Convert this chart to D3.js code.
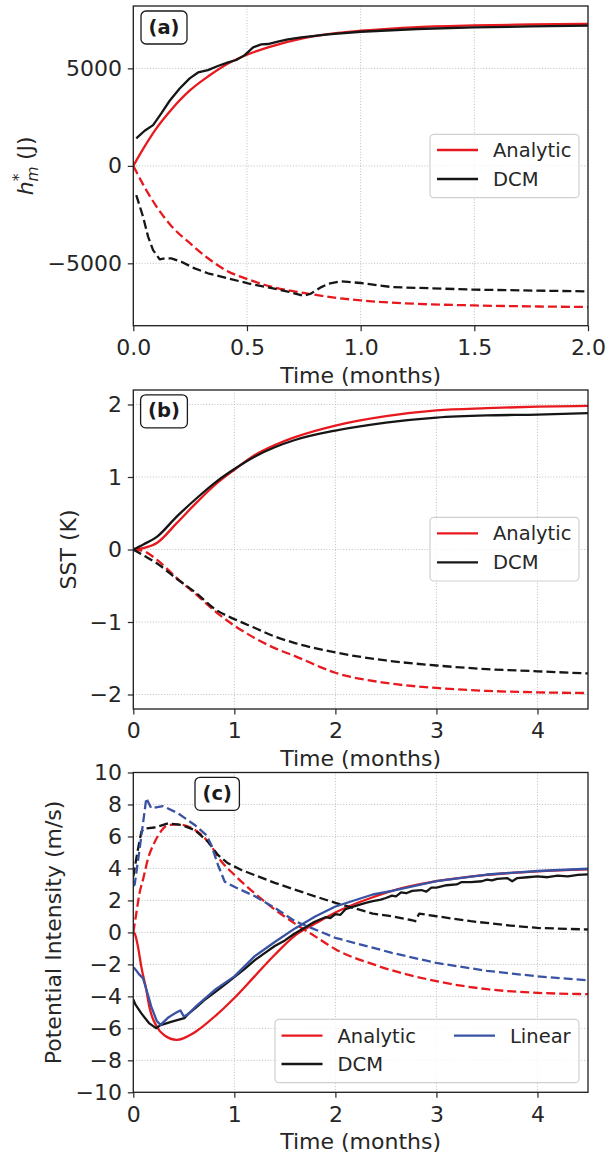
<!DOCTYPE html>
<html>
<head>
<meta charset="utf-8">
<script src="https://cdn.jsdelivr.net/npm/d3@7"></script>
<style>
  html, body { margin: 0; padding: 0; background: #fff; }
  svg { display: block; font-family: "DejaVu Sans", sans-serif; }
</style>
</head>
<body>
<svg id="fig" width="616" height="1153"></svg>
<script>
// ---------- Panel (a): h*_m (J), time in months ----------
const aTime = [0, 0.05, 0.1, 0.167, 0.25, 0.333, 0.417, 0.5, 0.6, 0.75, 0.9, 1.0, 1.25, 1.5, 1.75, 2.0];
const aAnalyticSolid = [0, 1000, 1900, 2880, 3880, 4620, 5250, 5700, 6100, 6550, 6820, 6930, 7120, 7210, 7250, 7280];
const aAnalyticDashed = [0, -1100, -2050, -3080, -3980, -4780, -5420, -5800, -6180, -6520, -6780, -6900, -7080, -7160, -7210, -7240];
const aDcmSolidTime = [0.013, 0.05, 0.087, 0.123, 0.16, 0.204, 0.248, 0.285, 0.328, 0.372, 0.417, 0.453, 0.49, 0.527, 0.563, 0.592, 0.636, 0.68, 0.739, 0.798, 0.857, 1.0, 1.25, 1.5, 1.75, 2.0];
const aDcmSolid = [1410, 1800, 2090, 2690, 3340, 3970, 4490, 4790, 4910, 5120, 5310, 5430, 5680, 6080, 6230, 6250, 6370, 6490, 6590, 6670, 6740, 6880, 7020, 7100, 7150, 7190];
const aDcmDashedTime = [0.013, 0.043, 0.065, 0.087, 0.116, 0.14, 0.167, 0.211, 0.27, 0.328, 0.417, 0.505, 0.592, 0.68, 0.75, 0.78, 0.827, 0.86, 0.914, 1.0, 1.138, 1.5, 2.0];
const aDcmDashed = [-1500, -2610, -3630, -4320, -4800, -4740, -4750, -4920, -5260, -5510, -5770, -6030, -6230, -6450, -6670, -6560, -6220, -6040, -5925, -6010, -6220, -6350, -6440];
const aXTicks = [0, 0.5, 1.0, 1.5, 2.0];
const aYTicks = [-5000, 0, 5000];

// ---------- Panel (b): SST (K) ----------
const bTime = [0, 0.1, 0.233, 0.427, 0.621, 0.816, 1.0, 1.2, 1.4, 1.6, 2.0, 2.5, 3.0, 3.5, 4.0, 4.5];
const bAnalyticSolid = [0, 0.02, 0.09, 0.36, 0.64, 0.9, 1.1, 1.3, 1.44, 1.55, 1.71, 1.84, 1.92, 1.95, 1.97, 1.98];
const bAnalyticDashed = [0, -0.02, -0.14, -0.39, -0.62, -0.86, -1.05, -1.22, -1.36, -1.47, -1.70, -1.84, -1.91, -1.95, -1.97, -1.98];
const bDcmSolid = [0, 0.07, 0.174, 0.45, 0.70, 0.93, 1.11, 1.28, 1.41, 1.51, 1.64, 1.75, 1.82, 1.85, 1.86, 1.88];
const bDcmDashed = [0, -0.08, -0.19, -0.40, -0.60, -0.83, -0.96, -1.08, -1.2, -1.29, -1.42, -1.53, -1.6, -1.65, -1.68, -1.71];
const bXTicks = [0, 1, 2, 3, 4];
const bYTicks = [-2, -1, 0, 1, 2];

// ---------- Panel (c): Potential Intensity (m/s) ----------
const cAnalyticSolidTime = [0, 0.013, 0.046, 0.079, 0.129, 0.162, 0.233, 0.31, 0.43, 0.505, 0.62, 0.816, 1.0, 1.2, 1.4, 1.6, 1.8, 2.0, 2.37, 2.56, 3.0, 3.5, 4.0, 4.5];
const cAnalyticSolid = [0, -0.06, -0.89, -2.14, -3.6, -4.75, -5.9, -6.45, -6.72, -6.6, -6.2, -5.2, -4.1, -2.75, -1.4, -0.2, 0.55, 1.25, 2.2, 2.6, 3.2, 3.6, 3.82, 3.94];
const cAnalyticDashedTime = [0, 0.03, 0.06, 0.1, 0.145, 0.2, 0.25, 0.34, 0.44, 0.6, 0.74, 0.87, 1.0, 1.2, 1.4, 1.6, 1.8, 2.0, 2.4, 3.0, 3.5, 4.0, 4.5];
const cAnalyticDashed = [0, 1.2, 2.4, 3.4, 4.6, 5.5, 6.1, 6.7, 6.76, 6.45, 5.67, 4.45, 3.6, 2.45, 1.43, 0.55, -0.25, -1.05, -2.05, -3.05, -3.55, -3.78, -3.86];
const cDcmSolidTime = [0, 0.02, 0.078, 0.155, 0.225, 0.27, 0.39, 0.505, 0.544, 0.62, 0.7, 0.816, 0.9, 1.0, 1.1, 1.2, 1.3, 1.4, 1.5, 1.59, 1.7, 1.79, 1.9, 1.95, 2.0, 2.05, 2.1, 2.17, 2.25, 2.3, 2.37, 2.45, 2.5, 2.56, 2.6, 2.65, 2.7, 2.76, 2.85, 2.9, 2.95, 3.0, 3.1, 3.2, 3.25, 3.34, 3.45, 3.5, 3.55, 3.6, 3.7, 3.75, 3.8, 3.9, 4.0, 4.1, 4.2, 4.3, 4.4, 4.5];
const cDcmSolid = [-4.2, -4.5, -5.05, -5.67, -5.99, -5.8, -5.57, -5.36, -5.1, -4.7, -4.25, -3.7, -3.3, -2.8, -2.3, -1.75, -1.3, -0.85, -0.5, -0.1, 0.3, 0.65, 0.95, 0.9, 1.15, 1.1, 1.45, 1.6, 1.75, 1.85, 1.95, 2.05, 2.15, 2.3, 2.25, 2.5, 2.45, 2.6, 2.65, 2.55, 2.8, 2.8, 2.95, 3.0, 3.15, 3.15, 3.2, 3.3, 3.25, 3.35, 3.4, 3.2, 3.4, 3.45, 3.5, 3.45, 3.55, 3.5, 3.6, 3.63];
const cDcmDashedTime = [0, 0.04, 0.08, 0.112, 0.21, 0.343, 0.475, 0.608, 0.739, 0.838, 0.937, 1.07, 1.4, 1.79, 2.0, 2.37, 2.56, 2.76, 2.79, 2.83, 3.0, 3.34, 3.73, 4.0, 4.5];
const cDcmDashed = [3.5, 5.0, 6.3, 6.5, 6.56, 6.82, 6.72, 6.4, 5.67, 4.84, 4.32, 3.9, 3.1, 2.27, 1.85, 1.18, 1.01, 0.76, 0.7, 1.18, 1.01, 0.7, 0.43, 0.28, 0.18];
const cLinearSolidTime = [0, 0.013, 0.063, 0.096, 0.145, 0.178, 0.233, 0.27, 0.35, 0.43, 0.466, 0.5, 0.544, 0.62, 0.816, 1.0, 1.2, 1.4, 1.6, 1.8, 2.0, 2.37, 2.56, 3.0, 3.5, 4.0, 4.5];
const cLinearSolid = [-2.2, -2.25, -2.66, -2.87, -3.9, -4.64, -5.55, -5.78, -5.3, -5.0, -4.88, -5.26, -5.1, -4.63, -3.55, -2.75, -1.5, -0.6, 0.25, 1.0, 1.62, 2.37, 2.6, 3.2, 3.62, 3.84, 3.98];
const cLinearDashedTime = [0, 0.014, 0.06, 0.1, 0.129, 0.178, 0.294, 0.442, 0.608, 0.723, 0.772, 0.839, 0.905, 1.0, 1.2, 1.4, 1.6, 2.0, 2.56, 3.0, 3.5, 4.0, 4.5];
const cLinearDashed = [2.9, 3.0, 5.1, 7.0, 8.4, 7.76, 7.9, 7.45, 6.72, 6.09, 5.47, 4.2, 3.17, 2.85, 2.27, 1.54, 0.7, -0.34, -1.28, -1.91, -2.4, -2.75, -3.0];
const cXTicks = [0, 1, 2, 3, 4];
const cYTicks = [-10, -8, -6, -4, -2, 0, 2, 4, 6, 8, 10];

// ---------- styling ----------
const RED = "#e8191e", BLACK = "#161616", BLUE = "#3953a4";
const TEXT = "#262626";
const LW = 2.3;
const DASH = "9,4";

const svg = d3.select("#fig");
svg.append("rect").attr("width", 616).attr("height", 1153).attr("fill", "#fff");

const minus = v => (v < 0 ? "\u2212" : "") + Math.abs(v);

function drawPanel(p) {
  const x = d3.scaleLinear().domain(p.xDomain).range([p.left, p.right]);
  const y = d3.scaleLinear().domain(p.yDomain).range([p.bottom, p.top]);
  const g = svg.append("g");

  // grid
  const grid = g.append("g").attr("stroke", "#b8b8b8").attr("stroke-width", 0.9)
    .attr("stroke-dasharray", "1,1.8");
  p.xTicks.forEach(t => grid.append("line")
    .attr("x1", x(t)).attr("x2", x(t)).attr("y1", p.top).attr("y2", p.bottom));
  p.yTicks.forEach(t => grid.append("line")
    .attr("x1", p.left).attr("x2", p.right).attr("y1", y(t)).attr("y2", y(t)));

  // series
  const clipId = "clip-" + p.id;
  svg.append("clipPath").attr("id", clipId).append("rect")
    .attr("x", p.left).attr("y", p.top)
    .attr("width", p.right - p.left).attr("height", p.bottom - p.top);
  const lines = g.append("g").attr("clip-path", `url(#${clipId})`);
  p.series.forEach(s => {
    const line = d3.line()
      .x(d => x(d[0])).y(d => y(d[1]))
      .curve(s.smooth ? d3.curveMonotoneX : d3.curveLinear);
    lines.append("path")
      .attr("d", line(d3.zip(s.t, s.v)))
      .attr("fill", "none")
      .attr("stroke", s.color)
      .attr("stroke-width", LW)
      .attr("stroke-linejoin", "round")
      .attr("stroke-dasharray", s.dashed ? DASH : null);
  });

  // axes
  const xAxis = d3.axisBottom(x).tickValues(p.xTicks).tickFormat(p.xFormat)
    .tickSize(5.5).tickPadding(8.3);
  const yAxis = d3.axisLeft(y).tickValues(p.yTicks).tickFormat(minus)
    .tickSize(5.5).tickPadding(5.8);
  const styleAxis = a => {
    a.select(".domain").remove();
    a.selectAll(".tick line").attr("stroke", TEXT).attr("stroke-width", 1.2);
    a.selectAll(".tick text").attr("fill", TEXT).attr("font-size", 22)
      .attr("font-family", "DejaVu Sans");
  };
  g.append("g").attr("transform", `translate(0,${p.bottom})`).call(xAxis).call(styleAxis);
  g.append("g").attr("transform", `translate(${p.left},0)`).call(yAxis).call(styleAxis);

  // spines
  g.append("rect")
    .attr("x", p.left).attr("y", p.top)
    .attr("width", p.right - p.left).attr("height", p.bottom - p.top)
    .attr("fill", "none").attr("stroke", "#1e1e1e").attr("stroke-width", 1.3);

  // x label
  g.append("text")
    .attr("x", (p.left + p.right) / 2).attr("y", p.bottom + 57)
    .attr("text-anchor", "middle").attr("font-size", 22).attr("fill", TEXT)
    .text("Time (months)");

  // y label
  const yl = g.append("text")
    .attr("transform", `translate(${p.ylabelX},${(p.top + p.bottom) / 2}) rotate(-90)`)
    .attr("text-anchor", "middle").attr("font-size", 22).attr("fill", TEXT);
  p.ylabel(yl);

  // legend
  const L = p.legend;
  const lg = g.append("g");
  lg.append("rect")
    .attr("x", L.x).attr("y", L.y).attr("width", L.w).attr("height", L.h)
    .attr("rx", 4).attr("fill", "#fff").attr("fill-opacity", 0.8)
    .attr("stroke", "#d0d0d0").attr("stroke-width", 1.2);
  L.items.forEach(it => {
    lg.append("line")
      .attr("x1", it.x).attr("x2", it.x + 41).attr("y1", it.y).attr("y2", it.y)
      .attr("stroke", it.color).attr("stroke-width", LW);
    lg.append("text")
      .attr("x", it.x + 56).attr("y", it.y + 7)
      .attr("font-size", 19.5).attr("fill", TEXT).text(it.label);
  });

  // panel tag
  const tg = g.append("g");
  const tt = tg.append("text")
    .attr("x", p.tag.cx).attr("y", p.tag.cy + 6.1)
    .attr("text-anchor", "middle").attr("font-size", 19.5)
    .attr("font-weight", "bold").attr("fill", "#1a1a1a").text(p.tag.text);
  const w = tt.node().getComputedTextLength() + 15;
  tg.insert("rect", "text")
    .attr("x", p.tag.cx - w / 2).attr("y", p.tag.cy - 16.5)
    .attr("width", w).attr("height", 33).attr("rx", 5)
    .attr("fill", "#fff").attr("stroke", "#1a1a1a").attr("stroke-width", 1.3);
}

const LEFT = 133.3, RIGHT = 588;

// (a)
drawPanel({
  id: "a", left: LEFT, right: RIGHT, top: 6, bottom: 325.7,
  xDomain: [0, 2], yDomain: [-8200, 8200],
  xTicks: aXTicks, yTicks: aYTicks, xFormat: d3.format(".1f"),
  ylabelX: 33,
  ylabel: t => {
    t.append("tspan").attr("font-style", "italic").text("h");
    t.append("tspan").attr("font-style", "italic").attr("font-size", 15.4)
      .attr("dy", 5).text("m");
    t.append("tspan").attr("font-size", 15.4).attr("dx", -14.8).attr("dy", -14).text("*");
    t.append("tspan").attr("dx", 6.5).attr("dy", 9).text(" (J)");
  },
  series: [
    { t: aTime, v: aAnalyticSolid, color: RED, smooth: true },
    { t: aTime, v: aAnalyticDashed, color: RED, smooth: true, dashed: true },
    { t: aDcmSolidTime, v: aDcmSolid, color: BLACK },
    { t: aDcmDashedTime, v: aDcmDashed, color: BLACK, dashed: true }
  ],
  legend: { x: 430, y: 134.3, w: 149, h: 63.4, items: [
    { label: "Analytic", color: RED, x: 437, y: 150 },
    { label: "DCM", color: BLACK, x: 437, y: 179 }
  ]},
  tag: { text: "(a)", cx: 164, cy: 27.5 }
});

// (b)
drawPanel({
  id: "b", left: LEFT, right: RIGHT, top: 390, bottom: 709,
  xDomain: [0, 4.5], yDomain: [-2.2, 2.2],
  xTicks: bXTicks, yTicks: bYTicks, xFormat: d3.format("d"),
  ylabelX: 75.5,
  ylabel: t => t.text("SST (K)"),
  series: [
    { t: bTime, v: bAnalyticSolid, color: RED, smooth: true },
    { t: bTime, v: bAnalyticDashed, color: RED, smooth: true, dashed: true },
    { t: bTime, v: bDcmSolid, color: BLACK, smooth: true },
    { t: bTime, v: bDcmDashed, color: BLACK, smooth: true, dashed: true }
  ],
  legend: { x: 430, y: 517.3, w: 149, h: 63.7, items: [
    { label: "Analytic", color: RED, x: 437, y: 533.3 },
    { label: "DCM", color: BLACK, x: 437, y: 562.3 }
  ]},
  tag: { text: "(b)", cx: 164, cy: 411.3 }
});

// (c)
drawPanel({
  id: "c", left: LEFT, right: RIGHT, top: 772.5, bottom: 1092.3,
  xDomain: [0, 4.5], yDomain: [-10, 10],
  xTicks: cXTicks, yTicks: cYTicks, xFormat: d3.format("d"),
  ylabelX: 61,
  ylabel: t => t.text("Potential Intensity (m/s)"),
  series: [
    { t: cAnalyticSolidTime, v: cAnalyticSolid, color: RED, smooth: true },
    { t: cAnalyticDashedTime, v: cAnalyticDashed, color: RED, smooth: true, dashed: true },
    { t: cDcmSolidTime, v: cDcmSolid, color: BLACK },
    { t: cDcmDashedTime, v: cDcmDashed, color: BLACK, dashed: true },
    { t: cLinearSolidTime, v: cLinearSolid, color: BLUE },
    { t: cLinearDashedTime, v: cLinearDashed, color: BLUE, dashed: true }
  ],
  legend: { x: 275, y: 1019.3, w: 304, h: 63.4, items: [
    { label: "Analytic", color: RED, x: 281.5, y: 1035.7 },
    { label: "DCM", color: BLACK, x: 281.5, y: 1064 },
    { label: "Linear", color: BLUE, x: 454, y: 1035.7 }
  ]},
  tag: { text: "(c)", cx: 217.2, cy: 793.8 }
});
</script>
</body>
</html>
